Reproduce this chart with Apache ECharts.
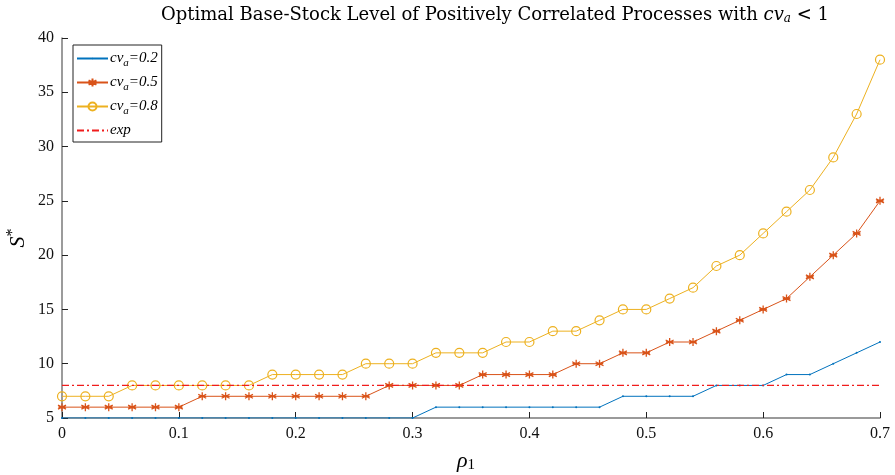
<!DOCTYPE html>
<html>
<head>
<meta charset="utf-8">
<script src="https://cdn.jsdelivr.net/npm/echarts@6/dist/echarts.min.js"></script>
<style>
  html, body { margin: 0; padding: 0; background: #fff; }
  #chart { width: 895px; height: 475px; }
</style>
</head>
<body>
<div id="chart"></div>
<script>
// correlation coefficient rho_1, step 0.02
const rho = [0, 0.02, 0.04, 0.06, 0.08, 0.10, 0.12, 0.14, 0.16, 0.18,
             0.20, 0.22, 0.24, 0.26, 0.28, 0.30, 0.32, 0.34, 0.36, 0.38,
             0.40, 0.42, 0.44, 0.46, 0.48, 0.50, 0.52, 0.54, 0.56, 0.58,
             0.60, 0.62, 0.64, 0.66, 0.68, 0.70];

// optimal base-stock level S* per coefficient of variation
const cv02 = [5, 5, 5, 5, 5, 5, 5, 5, 5, 5, 5, 5, 5, 5, 5, 5,
              6, 6, 6, 6, 6, 6, 6, 6, 7, 7, 7, 7, 8, 8, 8, 9, 9, 10, 11, 12];
const cv05 = [6, 6, 6, 6, 6, 6, 7, 7, 7, 7, 7, 7, 7, 7, 8, 8, 8, 8,
              9, 9, 9, 9, 10, 10, 11, 11, 12, 12, 13, 14, 15, 16, 18, 20, 22, 25];
const cv08 = [7, 7, 7, 8, 8, 8, 8, 8, 8, 9, 9, 9, 9, 10, 10, 10, 11, 11,
              11, 12, 12, 13, 13, 14, 15, 15, 16, 17, 19, 20, 22, 24, 26, 29, 33, 38];
const expLevel = 8;

const seriesNames = ['cv_a=0.2', 'cv_a=0.5', 'cv_a=0.8', 'exp'];
const xTicks = [0, 0.1, 0.2, 0.3, 0.4, 0.5, 0.6, 0.7];

const pairs = (ys) => rho.map((x, i) => [x, ys[i]]);

const SERIF = '"Liberation Serif", "DejaVu Serif", serif';
const TITLE_FONT = '"DejaVu Serif", serif';
const BLUE = '#0072BD', ORANGE = '#D95319', YELLOW = '#EDB120', RED = '#F01C1C';

// small dot centred in a padded box, so it stays tiny in the legend too
const DOT = 'path://M0,0M10,10M4,5a1,1 0 1,0 2,0a1,1 0 1,0 -2,0z';
// asterisk marker drawn as strokes
const ASTERISK = 'path://M5,0L5,10M0.67,2.5L9.33,7.5M0.67,7.5L9.33,2.5M1,5L9,5';

const chart = echarts.init(document.getElementById('chart'), null, { renderer: 'canvas' });

const legendRich = {
  i: { fontFamily: SERIF, fontStyle: 'italic', fontSize: 15, color: '#000' },
  s: { fontFamily: SERIF, fontStyle: 'italic', fontSize: 11, color: '#000', padding: [10, 0, 0, 0] }
};

chart.setOption({
  animation: false,
  backgroundColor: '#fff',
  grid: { left: 62, right: 15, top: 38, bottom: 57, containLabel: false },
  legend: {
    orient: 'vertical',
    left: 73,
    top: 45,
    padding: [6, 4, 4, 3],
    itemGap: 6,
    itemWidth: 31,
    itemHeight: 10,
    borderColor: '#222',
    borderWidth: 1,
    backgroundColor: '#fff',
    selectedMode: false,
    data: [
      { name: seriesNames[0] },
      { name: seriesNames[1] },
      { name: seriesNames[2] },
      { name: seriesNames[3], itemStyle: { opacity: 0 } }
    ],
    textStyle: { rich: legendRich, padding: [0, 0, 0, -3] },
    formatter: (name) => {
      if (name === 'exp') return '{i|exp}';
      const v = name.split('=')[1];
      return '{i|cv}{s|a}{i|=' + v + '}';
    }
  },
  xAxis: {
    type: 'value',
    min: 0, max: 0.7, interval: 0.1,
    splitLine: { show: false },
    axisLine: { show: true, onZero: false, lineStyle: { color: '#7a7a7a', width: 1.5 } },
    axisTick: { show: true, inside: true, length: 6, lineStyle: { color: '#222', width: 1 } },
    axisLabel: {
      fontFamily: SERIF, fontSize: 16, color: '#111', margin: 8,
      formatter: (v) => (xTicks.includes(+v.toFixed(1)) ? String(+v.toFixed(1)) : '')
    }
  },
  yAxis: {
    type: 'value',
    min: 5, max: 40, interval: 5,
    splitLine: { show: false },
    axisLine: { show: true, onZero: false, lineStyle: { color: '#7a7a7a', width: 1.5 } },
    axisTick: { show: true, inside: true, length: 6, lineStyle: { color: '#222', width: 1 } },
    axisLabel: { fontFamily: SERIF, fontSize: 16, color: '#111', margin: 8 }
  },
  series: [
    {
      name: seriesNames[0], type: 'line', data: pairs(cv02),
      color: BLUE,
      symbol: DOT, symbolSize: 10,
      lineStyle: { color: BLUE, width: 1 },
      itemStyle: { color: BLUE },
      z: 2
    },
    {
      name: seriesNames[1], type: 'line', data: pairs(cv05),
      color: ORANGE,
      symbol: ASTERISK, symbolSize: 8,
      lineStyle: { color: ORANGE, width: 1 },
      itemStyle: { color: ORANGE, borderColor: ORANGE, borderWidth: 1.3 },
      z: 3
    },
    {
      name: seriesNames[2], type: 'line', data: pairs(cv08),
      color: YELLOW,
      symbol: 'circle', symbolSize: 9,
      lineStyle: { color: YELLOW, width: 1 },
      itemStyle: { color: 'rgba(255,255,255,0)', borderColor: YELLOW, borderWidth: 1.2 },
      z: 4
    },
    {
      name: seriesNames[3], type: 'line',
      data: [[rho[0], expLevel], [rho[rho.length - 1], expLevel]],
      color: RED,
      symbol: 'none',
      lineStyle: { color: RED, width: 1.2, type: [7, 3, 2, 3] },
      z: 5
    }
  ],
  graphic: [
    {
      type: 'text', x: 495, y: 15,
      style: {
        text: '{t|Optimal Base-Stock Level of Positively Correlated Processes with }{m|cv}{ms|a}{t| < 1}',
        align: 'center', verticalAlign: 'middle',
        rich: {
          t: { fontFamily: TITLE_FONT, fontSize: 18, color: '#000' },
          m: { fontFamily: TITLE_FONT, fontStyle: 'italic', fontSize: 18, color: '#000' },
          ms: { fontFamily: TITLE_FONT, fontStyle: 'italic', fontSize: 12, color: '#000', padding: [8, 0, 0, 0] }
        }
      }
    },
    {
      type: 'text', x: 18, y: 238, rotation: Math.PI / 2,
      style: {
        text: '{s|S}{p|*}',
        align: 'center', verticalAlign: 'middle',
        rich: {
          s: { fontFamily: SERIF, fontStyle: 'italic', fontSize: 22, color: '#000' },
          p: { fontFamily: SERIF, fontSize: 16, color: '#000', padding: [0, 0, 10, 0] }
        }
      }
    },
    {
      type: 'text', x: 466, y: 461,
      style: {
        text: '{r|ρ}{n|1}',
        align: 'center', verticalAlign: 'middle',
        rich: {
          r: { fontFamily: SERIF, fontStyle: 'italic', fontSize: 22, color: '#000' },
          n: { fontFamily: SERIF, fontSize: 15, color: '#000', padding: [8, 0, 0, 0] }
        }
      }
    }
  ]
});
</script>
</body>
</html>
